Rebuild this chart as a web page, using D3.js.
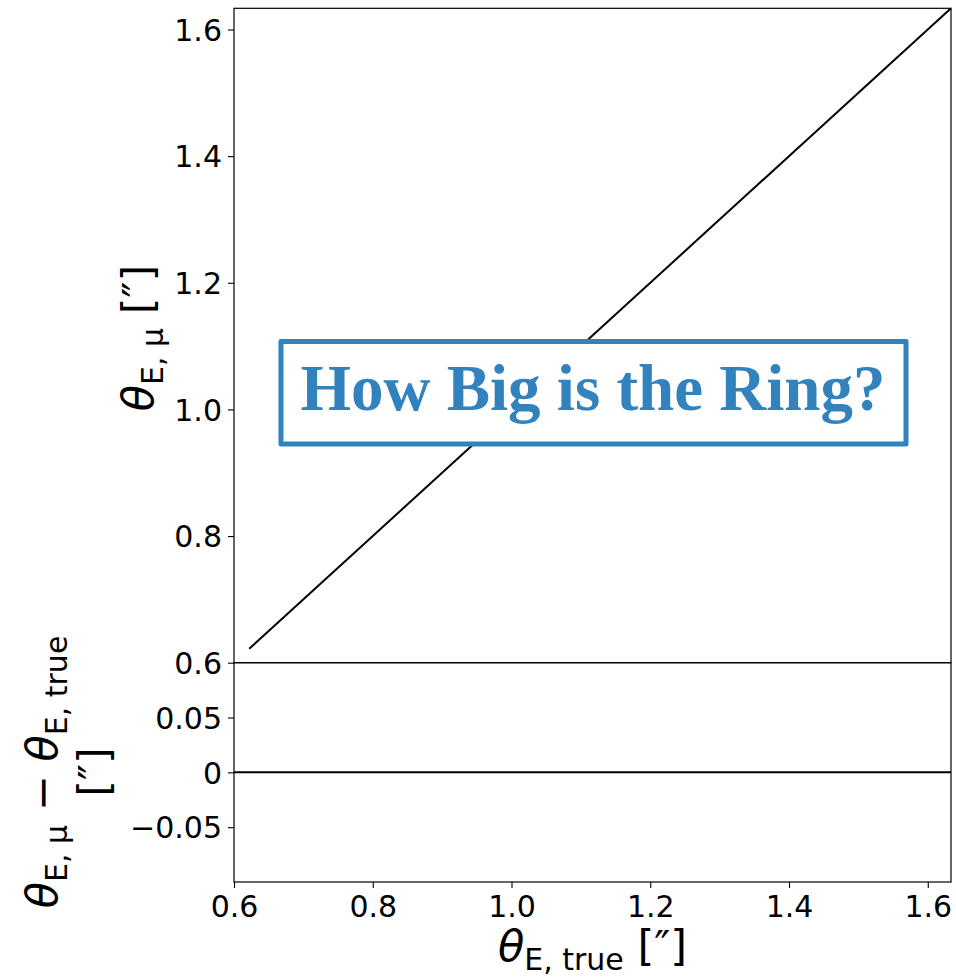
<!DOCTYPE html>
<html>
<head>
<meta charset="utf-8">
<script src="https://cdn.jsdelivr.net/npm/d3@7"></script>
<style>
  body { margin: 0; background: #fff; }
  svg { display: block; }
</style>
</head>
<body>
<svg id="chart" width="956" height="977"></svg>
<script>
// Einstein radius: recovered mean vs. true value, plus residual panel
const thetaTrue = [0.622, 1.6335];
const thetaFit = [0.622, 1.6335];
const residX = [0.6, 1.6335];
const residY = [0, 0];
const xTicks = [0.6, 0.8, 1.0, 1.2, 1.4, 1.6];
const yTicksTop = [0.6, 0.8, 1.0, 1.2, 1.4, 1.6];
const yTicksBottom = [-0.05, 0, 0.05];
const xDomain = [0.6, 1.6335];
const yDomainTop = [0.6, 1.6335];
const yDomainBottom = [-0.1, 0.1];
const titleText = "How Big is the Ring?";

const svg = d3.select("#chart");
const L = 234, R = 951;
const topY0 = 8.3, topY1 = 662.7, botY1 = 882;
const tickFont = "DejaVu Sans, sans-serif";

const x = d3.scaleLinear().domain(xDomain).range([L, R]);
const yTop = d3.scaleLinear().domain(yDomainTop).range([topY1, topY0]);
const yBot = d3.scaleLinear().domain(yDomainBottom).range([botY1, topY1]);

const fmtTop = d3.format(".1f");
const fmtBot = v => v === 0 ? "0" : d3.format(".2f")(v);

function styleAxis(g) {
  g.select(".domain").remove();
  g.selectAll(".tick line").attr("stroke", "#000").attr("stroke-width", 1.1);
  g.selectAll(".tick text")
    .attr("fill", "#000")
    .style("font-family", tickFont)
    .style("font-size", "30px");
}

// top panel: y axis
svg.append("g")
  .attr("transform", `translate(${L},0)`)
  .call(d3.axisLeft(yTop).tickValues(yTicksTop).tickFormat(fmtTop)
    .tickSize(6).tickPadding(6).tickSizeOuter(0))
  .call(styleAxis)
  .call(g => g.selectAll(".tick text").attr("dy", "0.36em"));

// bottom panel: y axis
svg.append("g")
  .attr("transform", `translate(${L},0)`)
  .call(d3.axisLeft(yBot).tickValues(yTicksBottom).tickFormat(fmtBot)
    .tickSize(6).tickPadding(6).tickSizeOuter(0))
  .call(styleAxis)
  .call(g => g.selectAll(".tick text").attr("dy", "0.36em"));

// shared x axis
svg.append("g")
  .attr("transform", `translate(0,${botY1})`)
  .call(d3.axisBottom(x).tickValues(xTicks).tickFormat(fmtTop)
    .tickSize(6).tickPadding(6).tickSizeOuter(0))
  .call(styleAxis)
  .call(g => g.selectAll(".tick text").attr("y", 35).attr("dy", null));

// data lines
const lineTop = d3.line().x(d => x(d[0])).y(d => yTop(d[1]));
svg.append("path")
  .attr("d", lineTop(d3.zip(thetaTrue, thetaFit)))
  .attr("fill", "none").attr("stroke", "#000").attr("stroke-width", 2);

const lineBot = d3.line().x(d => x(d[0])).y(d => yBot(d[1]));
svg.append("path")
  .attr("d", lineBot(d3.zip(residX, residY)))
  .attr("fill", "none").attr("stroke", "#000").attr("stroke-width", 2);

// panel frames
svg.append("rect")
  .attr("x", L).attr("y", topY0).attr("width", R - L).attr("height", topY1 - topY0)
  .attr("fill", "none").attr("stroke", "#000").attr("stroke-width", 1.2);
svg.append("rect")
  .attr("x", L).attr("y", topY1).attr("width", R - L).attr("height", botY1 - topY1)
  .attr("fill", "none").attr("stroke", "#000").attr("stroke-width", 1.2);

// math-style label: italic theta, subscript, then arc-second unit
function mathLabel(sel, sub, unit, big, small, shift) {
  sel.append("tspan").text("θ").style("font-style", "italic").style("font-size", big + "px");
  sel.append("tspan").text(sub).style("font-size", small + "px").attr("dy", shift);
  if (unit) sel.append("tspan").text(unit).style("font-size", big + "px").attr("dy", -shift);
}

// x label
const xl = svg.append("text")
  .attr("x", (L + R) / 2).attr("y", 961)
  .attr("text-anchor", "middle")
  .style("font-family", tickFont).attr("fill", "#000");
mathLabel(xl, "E, true", " [″]", 43, 30, 9);

// top y label
const yl = svg.append("text")
  .attr("transform", `translate(153,338) rotate(-90)`)
  .attr("text-anchor", "middle")
  .style("font-family", tickFont).attr("fill", "#000");
mathLabel(yl, "E, μ", " [″]", 43, 30, 10);

// bottom y label (two lines)
const yb = svg.append("g").attr("transform", `translate(0,772) rotate(-90)`);
const yb1 = yb.append("text")
  .attr("x", 0).attr("y", 57)
  .attr("text-anchor", "middle")
  .style("font-family", tickFont).attr("fill", "#000");
yb1.append("tspan").text("θ").style("font-style", "italic").style("font-size", "43px");
yb1.append("tspan").text("E, μ").style("font-size", "30px").attr("dy", 10);
yb1.append("tspan").text(" − ").style("font-size", "43px").attr("dy", -10);
yb1.append("tspan").text("θ").style("font-style", "italic").style("font-size", "43px");
yb1.append("tspan").text("E, true").style("font-size", "30px").attr("dy", 10);
yb.append("text")
  .attr("x", 0).attr("y", 109)
  .attr("text-anchor", "middle")
  .style("font-family", tickFont).style("font-size", "43px").attr("fill", "#000")
  .text("[″]");

// title box
const blue = "#3182bd";
svg.append("rect")
  .attr("x", 281).attr("y", 341.5).attr("width", 625).attr("height", 102.5)
  .attr("fill", "#fff").attr("stroke", blue).attr("stroke-width", 5)
  .attr("stroke-linejoin", "round");
svg.append("text")
  .attr("x", 593).attr("y", 410)
  .attr("text-anchor", "middle")
  .style("font-family", "Liberation Serif, serif").style("font-weight", "bold")
  .style("font-size", "65px").attr("fill", blue)
  .text(titleText);
</script>
</body>
</html>
